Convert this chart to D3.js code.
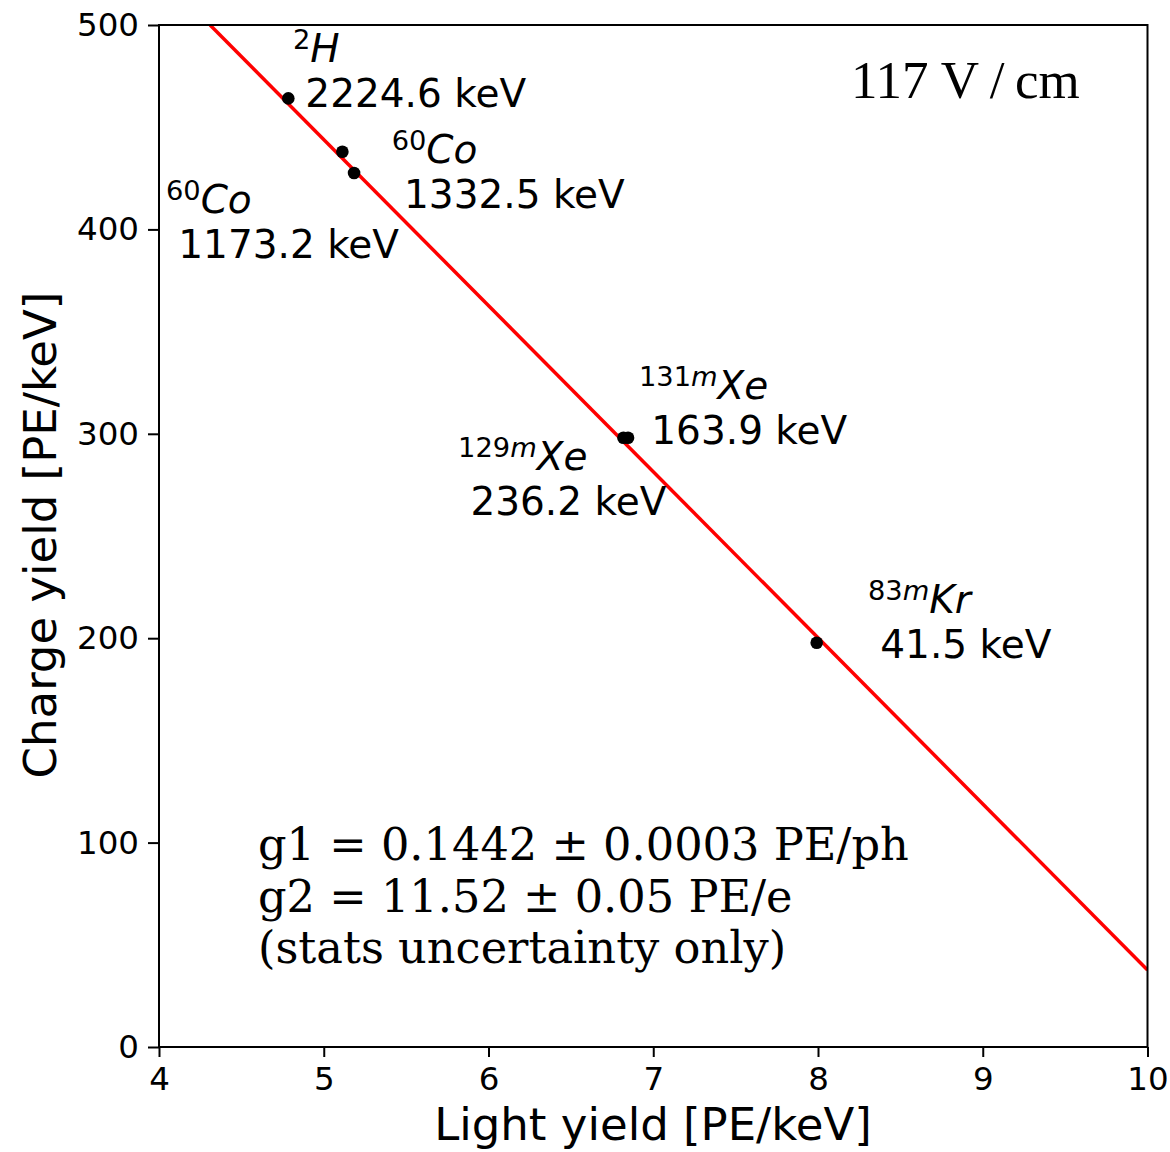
<!DOCTYPE html>
<html>
<head>
<meta charset='utf-8' />
<title></title>
<style>
  body{ margin:0; background:#fff; }
  text{ font-family:'DejaVu Sans', sans-serif; fill:#000; }
  .tick line{ stroke:#000; stroke-width:2; }
</style>
</head>
<body>
<script src="https://d3js.org/d3.v7.min.js"></script>
<script>

// calibration peaks
let massNum = ['2', '60', '60', '129', '131', '83'],
  meta = ['', '', '', 'm', 'm', 'm'],
  element = ['H', 'Co', 'Co', 'Xe', 'Xe', 'Kr'],
  energy = ['2224.6', '1332.5', '1173.2', '236.2', '163.9', '41.5'],
  lightYield = [4.785, 5.113, 5.184, 6.819, 6.847, 7.992],
  chargeYield = [464.1, 438.0, 427.6, 298.1, 298.1, 197.8]

// where each label sits (data units, first line)
let labelLY = [4.813, 5.412, 4.042, 5.815, 6.913, 8.303],
  labelCY = [482.0, 432.3, 407.9, 282.3, 316.9, 212.2]

// fitted line end points
let fitLY = [4.31, 10],
  fitCY = [500, 37.7]

let xTicks = [4, 5, 6, 7, 8, 9, 10],
  yTicks = [0, 100, 200, 300, 400, 500]

let fitText = ['g1 = 0.1442 \u00b1 0.0003 PE/ph', 'g2 = 11.52 \u00b1 0.05 PE/e', '(stats uncertainty only)']

let width = 1170, height = 1152,
  pLeft = 159, pRight = 1147.5, pTop = 25, pBottom = 1047

let svg = d3.select('body').append('svg').attr('width', width).attr('height', height)

let x = d3.scaleLinear().domain([4, 10]).range([pLeft, pRight]),
  y = d3.scaleLinear().domain([0, 500]).range([pBottom, pTop])

// axes
svg.append('g').attr('transform', 'translate(0,' + pBottom + ')')
  .call(d3.axisBottom(x).tickValues(xTicks).tickSize(10).tickPadding(10).tickFormat(d3.format('d')))
svg.append('g').attr('transform', 'translate(' + pLeft + ',0)')
  .call(d3.axisLeft(y).tickValues(yTicks).tickSize(11).tickPadding(9).tickFormat(d3.format('d')))
svg.selectAll('.domain').remove()
svg.selectAll('.tick text').style('font-size', '32.5px').style('font-family', "'DejaVu Sans', sans-serif").attr('fill', '#000')

svg.append('defs').append('clipPath').attr('id', 'clip')
  .append('rect').attr('x', pLeft).attr('y', pTop).attr('width', pRight - pLeft).attr('height', pBottom - pTop)

// fit line
let fit = fitLY.map((d, i) => [d, fitCY[i]])
svg.append('path').datum(fit)
  .attr('clip-path', 'url(#clip)')
  .attr('d', d3.line().x(d => x(d[0])).y(d => y(d[1])))
  .attr('fill', 'none').attr('stroke', '#ff0000').attr('stroke-width', 3.5)

// points
svg.append('g').selectAll('circle').data(lightYield).enter().append('circle')
  .attr('cx', d => x(d))
  .attr('cy', (d, i) => y(chargeYield[i]))
  .attr('r', 6.3)
  .attr('fill', '#000')

// labels
let labels = svg.append('g').selectAll('text').data(massNum).enter().append('text')
  .attr('x', (d, i) => x(labelLY[i]))
  .attr('y', (d, i) => y(labelCY[i]))
  .style('font-size', '39px')
  .style('white-space', 'pre')

labels.each(function(d, i){
  let t = d3.select(this), lx = x(labelLY[i])
  let sup = t.append('tspan').attr('dy', -13).style('font-size', '27.3px')
  sup.append('tspan').text(d)
  if(meta[i]) sup.append('tspan').style('font-style', 'italic').text(meta[i])
  t.append('tspan').attr('dy', 13).style('font-style', 'italic').text(element[i])
  t.append('tspan').attr('x', lx).attr('dy', 45).text(' ' + energy[i] + ' keV')
})

// frame
svg.append('rect').attr('x', pLeft).attr('y', pTop).attr('width', pRight - pLeft).attr('height', pBottom - pTop)
  .attr('fill', 'none').attr('stroke', '#000').attr('stroke-width', 2)

// axis titles
svg.append('text').attr('x', 653).attr('y', 1140)
  .attr('text-anchor', 'middle').style('font-size', '45px')
  .text('Light yield [PE/keV]')
svg.append('text').attr('transform', 'translate(56,535) rotate(-90)')
  .attr('text-anchor', 'middle').style('font-size', '45px')
  .text('Charge yield [PE/keV]')

// field
svg.append('text').attr('x', 851).attr('y', 98)
  .style('font-family', "'Liberation Serif', serif").style('font-size', '53px')
  .text('117 V\u2009/\u2009cm')

// fit results
svg.append('g').selectAll('text').data(fitText).enter().append('text')
  .attr('x', 258)
  .attr('y', (d, i) => 860 + i * 51.5)
  .style('font-family', "'DejaVu Serif', serif").style('font-size', '44.7px')
  .text(d => d)

</script>
</body>
</html>
